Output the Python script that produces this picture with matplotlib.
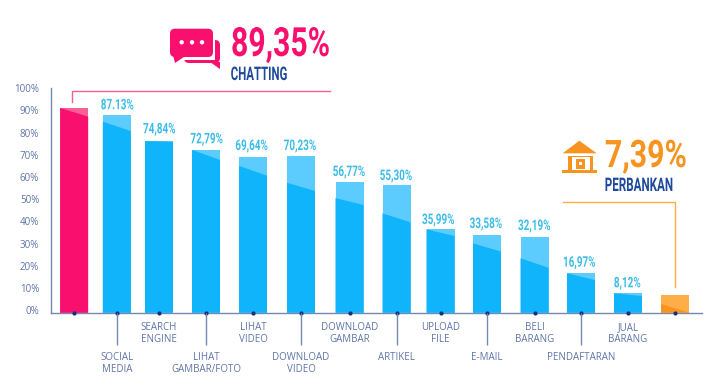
import matplotlib
matplotlib.use("Agg")
import matplotlib.pyplot as plt
import matplotlib.patheffects as pe
from matplotlib.transforms import Affine2D
from matplotlib.patches import FancyBboxPatch, Polygon, Rectangle, Circle

categories = ["", "SOCIAL\nMEDIA", "SEARCH\nENGINE", "LIHAT\nGAMBAR/FOTO", "LIHAT\nVIDEO",
              "DOWNLOAD\nVIDEO", "DOWNLOAD\nGAMBAR", "ARTIKEL", "UPLOAD\nFILE", "E-MAIL",
              "BELI\nBARANG", "PENDAFTARAN", "JUAL\nBARANG", ""]
bar_tops = [91.1, 87.9, 76.2, 72.2, 68.9, 69.5, 57.9, 56.4, 36.4, 33.7, 32.8, 16.6, 7.6, 6.7]
shade_left = [91.1, 84.9, 76.2, 72.2, 65.0, 57.4, 50.5, 43.6, 36.4, 30.1, 23.4, 16.6, 7.6, 2.8]
shade_right = [87.2, 80.7, 75.8, 67.7, 60.6, 53.7, 47.4, 39.6, 33.4, 26.4, 19.1, 13.6, 6.4, -1.1]
value_labels = ["", "87.13%", "74,84%", "72,79%", "69,64%", "70,23%", "56,77%", "55,30%",
                "35,99%", "33,58%", "32,19%", "16,97%", "8,12%", ""]
y_ticks = list(range(0, 101, 10))

# layout (pixels)
bar_x = [74.2, 116.8, 159, 206, 253, 301, 349.5, 396.5, 440.5, 487, 534.5, 581, 628, 675]
bar_w = 28
label_xy = [None, (117.3, 105.3), (159.3, 129.3), (206.7, 139.3), (251.7, 146), (300, 146),
            (349, 172), (396, 176), (438.3, 220), (486, 224), (534.3, 226), (579.3, 262.7),
            (627.3, 283.3), None]
lower_tier = [False, True, False, True, False, True, False, True, False, True, False, True, False, False]

W, H = 709, 389
base_y, top_y = 312.7, 88.0
left_x, right_x = 51.0, 702.0
px_per_unit = 2.22
y_floor = -(base_y - 310.2) / px_per_unit

PINK, PINK_L = "#F9106F", "#F95F97"
BLUE, BLUE_L = "#0FB4FB", "#5CCBFD"
ORANGE, ORANGE_L = "#F7931E", "#FFAD47"
AXIS = "#7587B2"
TXT = "#5F74A8"
NAVY = "#1F4A9C"
VAL = "#3BBDE8"
DISPLAY = "Roboto"


class Squeeze(pe.AbstractPathEffect):
    """Narrows real text horizontally about a display x position (condensed look)."""

    def __init__(self, px_x, sx):
        super().__init__()
        self.px_x, self.sx = px_x, sx

    def draw_path(self, renderer, gc, tpath, affine, rgbFace=None):
        squeezed = affine + Affine2D().translate(-self.px_x, 0).scale(self.sx, 1).translate(self.px_x, 0)
        renderer.draw_path(gc, tpath, squeezed, rgbFace)


fig = plt.figure(figsize=(W / 100, H / 100), dpi=100, facecolor="white")
ax = fig.add_axes([left_x / W, 1 - base_y / H, (right_x - left_x) / W, (base_y - top_y) / H])
ax.set_xlim(left_x, right_x)
ax.set_ylim(y_floor, y_floor + (base_y - top_y) / px_per_unit)
for s in ("top", "right"):
    ax.spines[s].set_visible(False)
for s in ("left", "bottom"):
    ax.spines[s].set_color(AXIS)
    ax.spines[s].set_linewidth(1.0)

for i, (x, t, sl, sr) in enumerate(zip(bar_x, bar_tops, shade_left, shade_right)):
    if i == 0:
        light, dark = PINK_L, PINK
    elif i == len(bar_x) - 1:
        light, dark = ORANGE_L, ORANGE
    else:
        light, dark = BLUE_L, BLUE
    ax.bar(x, t - y_floor, bottom=y_floor, width=bar_w, color=light, linewidth=0, zorder=2)
    ax.add_patch(Polygon([(x - bar_w / 2, y_floor), (x - bar_w / 2, sl),
                          (x + bar_w / 2, sr), (x + bar_w / 2, y_floor)],
                         closed=True, facecolor=dark, edgecolor="none", zorder=3))

ax.set_yticks(y_ticks, [f"{v}%" for v in y_ticks])
ax.tick_params(axis="y", length=0, pad=8.5, labelsize=7, labelcolor=TXT)
for lab in ax.get_yticklabels():
    lab.set_fontfamily("Open Sans")

ax.set_xticks(bar_x, categories)
ax.tick_params(axis="x", length=0, labelsize=7, labelcolor=TXT)
for tick, low in zip(ax.xaxis.get_major_ticks(), lower_tier):
    tick.set_pad(28.5 if low else 6.8)
    tick.label1.set_fontfamily("Open Sans")
    tick.label1.set_linespacing(1.05)

ax.scatter(bar_x, [y_floor] * len(bar_x), s=9, color="#12307E", clip_on=False, zorder=5, linewidths=0)

# overlay in pixel coordinates
ov = fig.add_axes([0, 0, 1, 1], facecolor="none")
ov.set_xlim(0, W)
ov.set_ylim(H, 0)
ov.axis("off")


def narrow_text(x, y, s, color, size, sx, ha="left", va="baseline"):
    ov.text(x, y, s, ha=ha, va=va, color=color, fontsize=size, fontweight="bold", family=DISPLAY,
            path_effects=[Squeeze(x, sx)])


for x, low in zip(bar_x, lower_tier):
    if low:
        ov.plot([x, x], [base_y, 345], color=AXIS, lw=1.0, solid_capstyle="butt")

for txt, xy in zip(value_labels, label_xy):
    if xy:
        narrow_text(xy[0], xy[1], txt, VAL, 10.5, 0.68, ha="center", va="center")

# chatting callout
ov.plot([71.7, 71.7, 330], [102, 91, 91], color=PINK_L, lw=1.0, solid_joinstyle="miter")
ov.add_patch(FancyBboxPatch((184, 40), 36, 23, boxstyle="round,pad=0,rounding_size=5",
                            fc=PINK, ec="none"))
ov.add_patch(Rectangle((181, 33), 34, 26.5, fc="white", ec="none"))
ov.add_patch(Polygon([(210, 62), (220, 62), (220, 68.5)], closed=True, fc=PINK, ec="none"))
ov.add_patch(FancyBboxPatch((170, 28.7), 43, 28.3, boxstyle="round,pad=0,rounding_size=5",
                            fc=PINK, ec="none"))
ov.add_patch(Polygon([(173, 55), (184, 57), (175, 63)], closed=True, fc=PINK, ec="none"))
for dx in (181.7, 192, 202):
    ov.add_patch(Circle((dx, 42.3), 2.2, fc="white", ec="none"))
narrow_text(231, 56, "89,35%", PINK, 29, 0.75)
narrow_text(230.7, 80, "CHATTING", NAVY, 13.5, 0.61)

# banking callout
ov.plot([562.7, 675.3, 675.3], [201.7, 201.7, 286.7], color=ORANGE_L, lw=1.0, solid_joinstyle="miter")
ov.add_patch(Polygon([(562.7, 153.3), (579.3, 140.7), (596.7, 153.3)], closed=True, fc=ORANGE, ec="none"))
ov.add_patch(Rectangle((568, 155.5), 25, 14, fc=ORANGE, ec="none"))
ov.add_patch(Rectangle((571.5, 157), 18, 12.5, fc="white", ec="none"))
ov.add_patch(Rectangle((575.5, 158.5), 9, 10, fc=ORANGE, ec="none"))
ov.add_patch(Rectangle((578.5, 161.5), 3, 3, fc="white", ec="none"))
ov.add_patch(Rectangle((561.7, 170.3), 35.6, 3, fc=ORANGE, ec="none"))
narrow_text(686.7, 167, "7,39%", ORANGE, 27.3, 0.8, ha="right")
narrow_text(673.5, 191, "PERBANKAN", NAVY, 13.5, 0.62, ha="right")

fig.savefig("out.png", dpi=100, facecolor="white")
